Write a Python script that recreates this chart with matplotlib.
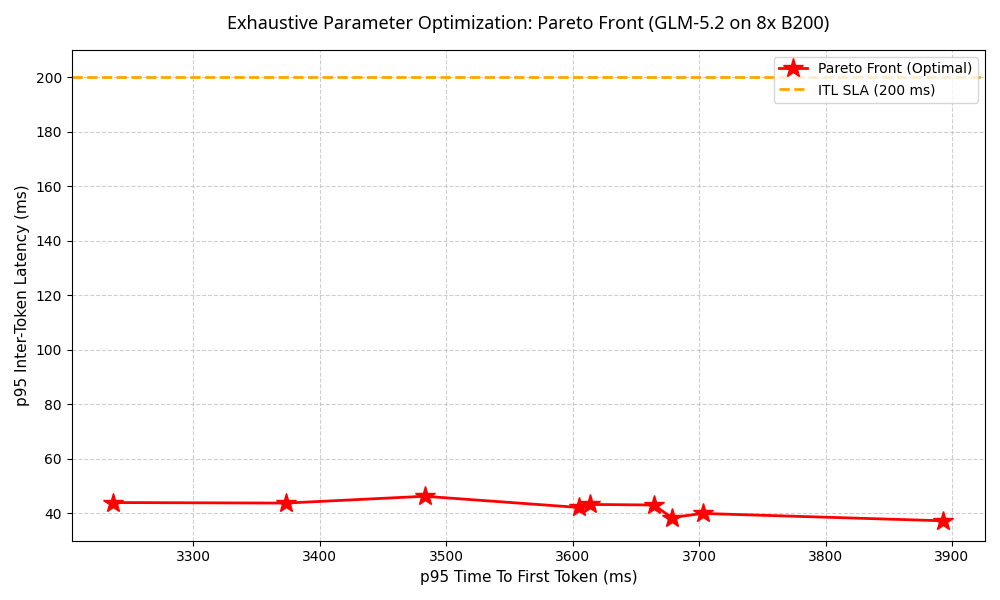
import matplotlib
matplotlib.use("Agg")
import matplotlib.pyplot as plt

ttft = [3236.6, 3373.3, 3482.9, 3604.7, 3613.8, 3664.1, 3678.3, 3702.8, 3893.3]
itl = [44.0, 43.8, 46.3, 42.2, 43.3, 43.1, 38.5, 40.0, 37.3]
sla = 200

fig, ax = plt.subplots(figsize=(10, 6), dpi=100)
ax.plot(ttft, itl, color="red", marker="*", markersize=15, linewidth=2,
        label="Pareto Front (Optimal)")
ax.axhline(sla, color="orange", linestyle="--", linewidth=2, label="ITL SLA (200 ms)")
ax.set_xlabel("p95 Time To First Token (ms)", fontsize=11)
ax.set_ylabel("p95 Inter-Token Latency (ms)", fontsize=11)
ax.set_title("Exhaustive Parameter Optimization: Pareto Front (GLM-5.2 on 8x B200)",
             pad=15, fontsize=13, family=["Noto Sans", "DejaVu Sans"])
ax.set_ylim(30, 210)
ax.grid(True, linestyle="--", alpha=0.6)
ax.legend(loc="upper right")
fig.tight_layout()
fig.savefig("out.png")
